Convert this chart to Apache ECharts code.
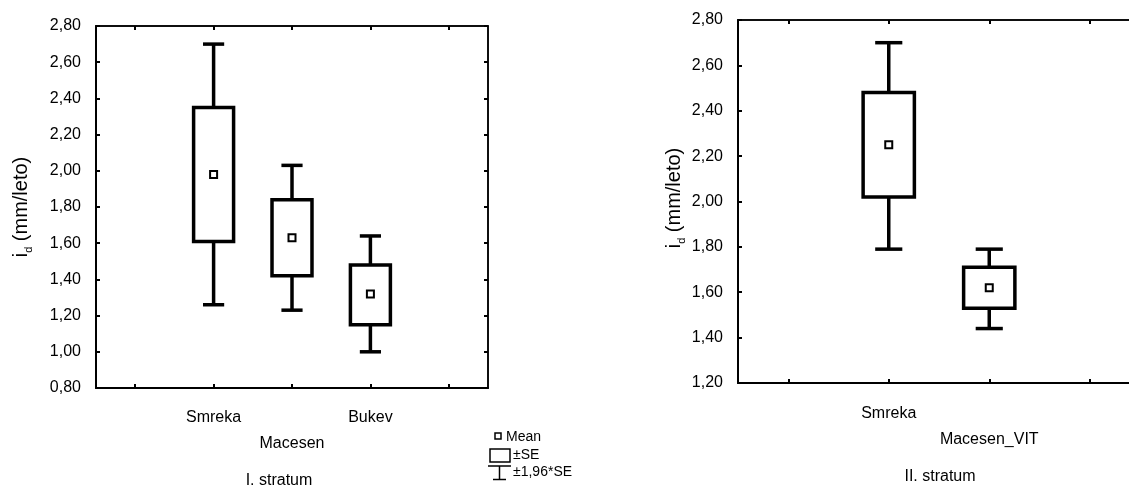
<!DOCTYPE html>
<html><head><meta charset="utf-8">
<script src="https://cdn.jsdelivr.net/npm/echarts@6/dist/echarts.min.js"></script>
<style>html,body{margin:0;padding:0;background:#fff}#c{width:1129px;height:492px}</style>
</head><body><div id="c"></div>
<script>
// ---- data: I. stratum ----
const catsI = ['', 'Smreka', 'Macesen', 'Bukev', ''];
const meanI   = [1.98, 1.63, 1.32];
const seLowI  = [1.61, 1.42, 1.15];
const seHighI = [2.35, 1.84, 1.48];
const ciLowI  = [1.26, 1.23, 1.00];
const ciHighI = [2.70, 2.03, 1.64];
const yMinI = 0.8, yMaxI = 2.8, yStepI = 0.2;
// ---- data: II. stratum ----
const catsII = ['', 'Smreka', 'Macesen_VIT', ''];
const meanII   = [2.25, 1.62];
const seLowII  = [2.02, 1.53];
const seHighII = [2.48, 1.71];
const ciLowII  = [1.79, 1.44];
const ciHighII = [2.70, 1.79];
const yMinII = 1.2, yMaxII = 2.8, yStepII = 0.2;
// ---- texts ----
const yName = 'i_d (mm/leto)';
const stratumI = 'I. stratum';
const stratumII = 'II. stratum';
const legendTexts = ['Mean', '±SE', '±1,96*SE'];

const FONT = '"Liberation Sans", Arial, sans-serif';
const fmtNum = v => v.toFixed(2).replace('.', ',');

function renderBox(params, api) {
  const x = api.value(0);
  const pLo = api.coord([x, api.value(1)]);
  const pSeLo = api.coord([x, api.value(2)]);
  const pMean = api.coord([x, api.value(3)]);
  const pSeHi = api.coord([x, api.value(4)]);
  const pHi = api.coord([x, api.value(5)]);
  const bw = api.size([1, 0])[0];
  const boxW = bw * 0.51, capW = bw * 0.27;
  const cx = pMean[0];
  const st = { stroke: '#000', lineWidth: 3.5, fill: null };
  return { type: 'group', children: [
    { type: 'line', shape: { x1: cx, y1: pHi[1], x2: cx, y2: pSeHi[1] }, style: st },
    { type: 'line', shape: { x1: cx, y1: pSeLo[1], x2: cx, y2: pLo[1] }, style: st },
    { type: 'line', shape: { x1: cx - capW / 2, y1: pHi[1], x2: cx + capW / 2, y2: pHi[1] }, style: st },
    { type: 'line', shape: { x1: cx - capW / 2, y1: pLo[1], x2: cx + capW / 2, y2: pLo[1] }, style: st },
    { type: 'rect', shape: { x: cx - boxW / 2, y: pSeHi[1], width: boxW, height: pSeLo[1] - pSeHi[1] },
      style: { stroke: '#000', lineWidth: 3.5, fill: '#fff' } },
    { type: 'rect', shape: { x: cx - 3.5, y: pMean[1] - 3.5, width: 7, height: 7 },
      style: { stroke: '#000', lineWidth: 2, fill: '#fff' } }
  ]};
}

function catAxis(grid, cats, pos, margin) {
  const main = pos === 'bottom';
  return {
    type: 'category', gridIndex: grid, position: pos, data: cats, boundaryGap: true,
    axisLine: { show: true, lineStyle: { color: '#000', width: main ? 2 : 1.5 } },
    axisTick: { show: true, inside: true, alignWithLabel: true, length: 4, lineStyle: { color: '#000', width: 2 } },
    axisLabel: main ? {
      show: true, interval: 0, margin: margin, color: '#000', fontFamily: FONT, fontSize: 16, lineHeight: 26,
      formatter: (v, i) => (i === 2 ? '\n' + v : v)
    } : { show: false },
    splitLine: { show: false }
  };
}
function valAxis(grid, min, max, step, pos) {
  const main = pos === 'left';
  return {
    type: 'value', gridIndex: grid, position: pos, min: min, max: max, interval: step,
    axisLine: { show: true, lineStyle: { color: '#000', width: main ? 2 : 1.5 } },
    axisTick: { show: true, inside: true, length: 4, lineStyle: { color: '#000', width: 2 } },
    axisLabel: main ? { show: true, margin: 15, color: '#000', fontFamily: FONT, fontSize: 16,
      formatter: fmtNum } : { show: false },
    splitLine: { show: false }
  };
}

const chart = echarts.init(document.getElementById('c'), null, { renderer: 'canvas' });
const rich = {
  i: { fontFamily: FONT, fontSize: 20, lineHeight: 26, fill: '#000', color: '#000', verticalAlign: 'middle' },
  d: { fontFamily: FONT, fontSize: 11, lineHeight: 26, fill: '#000', color: '#000', verticalAlign: 'bottom', padding: [10, 0, 0, 0] }
};
const [nmMain, nmSub] = yName.split('_');
const nameText = '{i|' + nmMain + '}{d|' + nmSub.slice(0, 1) + '}{i|' + nmSub.slice(1) + '}';

chart.setOption({
  animation: false,
  backgroundColor: '#fff',
  grid: [
    { left: 96, top: 26, width: 392, height: 362, show: true, borderColor: '#000', borderWidth: 1.5, outerBoundsMode: 'none', containLabel: false },
    { left: 738, top: 20, width: 402, height: 363, show: true, borderColor: '#000', borderWidth: 1.5, outerBoundsMode: 'none', containLabel: false }
  ],
  xAxis: [
    catAxis(0, catsI, 'bottom', 17),
    catAxis(0, catsI, 'top'),
    catAxis(1, catsII, 'bottom', 18),
    catAxis(1, catsII, 'top')
  ],
  yAxis: [
    valAxis(0, yMinI, yMaxI, yStepI, 'left'),
    valAxis(0, yMinI, yMaxI, yStepI, 'right'),
    valAxis(1, yMinII, yMaxII, yStepII, 'left'),
    valAxis(1, yMinII, yMaxII, yStepII, 'right')
  ],
  series: [
    { type: 'custom', xAxisIndex: 0, yAxisIndex: 0, renderItem: renderBox, encode: { x: 0, y: [1, 2, 3, 4, 5] },
      data: meanI.map((m, i) => [i + 1, ciLowI[i], seLowI[i], m, seHighI[i], ciHighI[i]]) },
    { type: 'custom', xAxisIndex: 2, yAxisIndex: 2, renderItem: renderBox, encode: { x: 0, y: [1, 2, 3, 4, 5] },
      data: meanII.map((m, i) => [i + 1, ciLowII[i], seLowII[i], m, seHighII[i], ciHighII[i]]) }
  ],
  graphic: [
    { type: 'text', x: 21, y: 207, rotation: Math.PI / 2,
      style: { text: nameText, rich: rich, align: 'center', verticalAlign: 'middle', fill: '#000' } },
    { type: 'text', x: 674, y: 198, rotation: Math.PI / 2,
      style: { text: nameText, rich: rich, align: 'center', verticalAlign: 'middle', fill: '#000' } },
    { type: 'text', x: 279, y: 481, style: { text: stratumI, font: '16px ' + FONT, fill: '#000', align: 'center', verticalAlign: 'middle' } },
    { type: 'text', x: 940, y: 477, style: { text: stratumII, font: '16px ' + FONT, fill: '#000', align: 'center', verticalAlign: 'middle' } },
    // legend
    { type: 'rect', shape: { x: 495, y: 433, width: 6, height: 6 }, style: { stroke: '#000', lineWidth: 1.5, fill: '#fff' } },
    { type: 'text', x: 506, y: 437, style: { text: legendTexts[0], font: '14px ' + FONT, fill: '#000', align: 'left', verticalAlign: 'middle' } },
    { type: 'rect', shape: { x: 490, y: 449, width: 20, height: 13 }, style: { stroke: '#000', lineWidth: 1.5, fill: '#fff' } },
    { type: 'text', x: 513, y: 455, style: { text: legendTexts[1], font: '14px ' + FONT, fill: '#000', align: 'left', verticalAlign: 'middle' } },
    { type: 'line', shape: { x1: 488, y1: 466, x2: 511, y2: 466 }, style: { stroke: '#000', lineWidth: 1.5 } },
    { type: 'line', shape: { x1: 499.5, y1: 466, x2: 499.5, y2: 480 }, style: { stroke: '#000', lineWidth: 1.5 } },
    { type: 'line', shape: { x1: 493, y1: 479.5, x2: 506, y2: 479.5 }, style: { stroke: '#000', lineWidth: 1.5 } },
    { type: 'text', x: 513, y: 472, style: { text: legendTexts[2], font: '14px ' + FONT, fill: '#000', align: 'left', verticalAlign: 'middle' } }
  ]
});
</script>
</body></html>
